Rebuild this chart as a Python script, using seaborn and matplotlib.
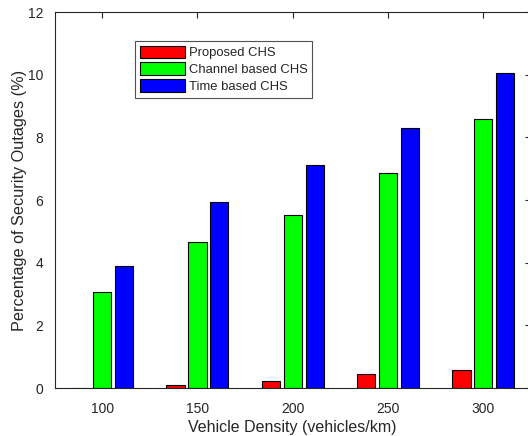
import matplotlib
matplotlib.use("Agg")
import matplotlib.pyplot as plt
import seaborn as sns
import pandas as pd

categories = ["100", "150", "200", "250", "300"]
series_names = ["Proposed CHS", "Channel based CHS", "Time based CHS"]
proposed = [0.0, 0.08, 0.23, 0.44, 0.58]
channel = [3.06, 4.65, 5.52, 6.85, 8.58]
time_based = [3.88, 5.94, 7.11, 8.30, 10.05]
colors = ["#ff0000", "#00ff00", "#0000ff"]

rows = []
for name, vals in zip(series_names, [proposed, channel, time_based]):
    for c, v in zip(categories, vals):
        rows.append({"density": c, "value": v, "series": name})
df = pd.DataFrame(rows)

sns.set_theme(style="white")
plt.rcParams["font.family"] = ["Liberation Sans", "DejaVu Sans"]

fig = plt.figure(figsize=(5.28, 4.36), dpi=100)
ax = fig.add_axes([54.5 / 528, 48 / 436, 476.5 / 528, 376 / 436])

sns.barplot(data=df, x="density", y="value", hue="series", order=categories,
            hue_order=series_names, palette=colors, width=0.69, gap=0.17,
            edgecolor="black", linewidth=0.8, saturation=1, ax=ax, legend=True)

ax.set_xlim(-0.5, 4.5)
ax.set_ylim(0, 12)
ax.set_yticks(range(0, 13, 2))
ax.set_xlabel("Vehicle Density (vehicles/km)", fontsize=11.5, color="#262626", labelpad=3)
ax.set_ylabel("Percentage of Security Outages (%)", fontsize=11.7, color="#262626", labelpad=0.5)
ax.tick_params(direction="in", top=True, right=True, length=4, width=0.8,
               colors="#262626", labelsize=10, pad=8)
ax.tick_params(axis="x", pad=10)
for s in ax.spines.values():
    s.set_color("#262626")
    s.set_linewidth(0.8)

leg = ax.legend(loc="upper left", bbox_to_anchor=(0.169, 0.923), fontsize=9.4,
                frameon=True, fancybox=False, shadow=False, handlelength=3.5,
                handleheight=1.1, labelspacing=0.25, handletextpad=0.25,
                borderpad=0.35, borderaxespad=0)
leg.get_frame().set_edgecolor("#262626")
leg.get_frame().set_linewidth(0.8)
for p in leg.get_patches():
    p.set_edgecolor("black")

fig.savefig("out.png", dpi=100)
